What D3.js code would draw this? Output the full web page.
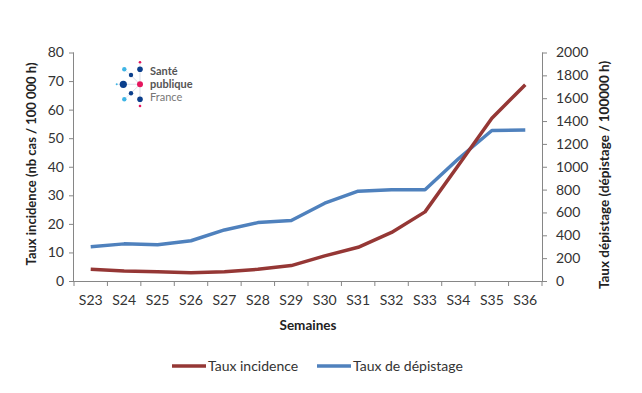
<!DOCTYPE html>
<html>
<head>
<meta charset="utf-8">
<script src="https://cdn.jsdelivr.net/npm/d3@7"></script>
<style>
  body { margin: 0; background: #fff; }
  text { font-family: Lato, "Open Sans", sans-serif; }
</style>
</head>
<body>
<svg id="chart" width="642" height="393"></svg>
<script>
const weeks = ["S23","S24","S25","S26","S27","S28","S29","S30","S31","S32","S33","S34","S35","S36"];
const incidence = [4.1, 3.5, 3.2, 2.9, 3.2, 4.1, 5.4, 8.8, 11.8, 17.0, 24.2, 40.5, 57.0, 68.7];
const depistage = [300, 325, 318, 352, 447, 511, 530, 681, 786, 798, 798, 1070, 1317, 1322];
const leftTicks = [0, 10, 20, 30, 40, 50, 60, 70, 80];
const rightTicks = [0, 200, 400, 600, 800, 1000, 1200, 1400, 1600, 1800, 2000];

const red = "#953735", blue = "#4f81bd", axisCol = "#868686";
const svg = d3.select("#chart");

const x = d3.scaleBand().domain(weeks).range([74, 542]);
const yL = d3.scaleLinear().domain([0, 80]).range([281, 52.5]);
const yR = d3.scaleLinear().domain([0, 2000]).range([281, 52.5]);

// axes
const gL = svg.append("g").attr("transform", "translate(74,0)")
  .call(d3.axisLeft(yL).tickValues(leftTicks).tickSize(5).tickPadding(5));
const gR = svg.append("g").attr("transform", "translate(542,0)")
  .call(d3.axisRight(yR).tickValues(rightTicks).tickFormat(d3.format("d")).tickSize(5).tickPadding(9));
const gX = svg.append("g").attr("transform", "translate(0,281)")
  .call(d3.axisBottom(x).tickSize(0).tickPadding(14));
// x ticks sit on the band edges
gX.selectAll(".edge").data(d3.range(weeks.length + 1)).enter().append("line")
  .attr("x1", i => 74 + i * x.step()).attr("x2", i => 74 + i * x.step())
  .attr("y1", 0).attr("y2", 5).attr("stroke", axisCol);

[gL, gR, gX].forEach(g => {
  g.selectAll("path, line").attr("stroke", axisCol);
  g.selectAll("text").attr("fill", "#333").style("font-size", "14px")
    .style("font-family", "Lato, sans-serif");
});
gL.select(".domain").attr("d", "M-0.5,52.5V281");
gR.select(".domain").attr("d", "M0.5,52.5V281");
gX.select(".domain").attr("d", "M74,0.5H542");

// axis titles
svg.append("text").attr("transform", "translate(36,164) rotate(-90)")
  .attr("text-anchor", "middle").style("font-size", "13px").style("font-weight", "bold")
  .attr("fill", "#222").text("Taux incidence (nb cas / 100 000 h)");
svg.append("text").attr("transform", "translate(609,175) rotate(-90)")
  .attr("text-anchor", "middle").style("font-size", "13.5px").style("font-weight", "bold")
  .attr("fill", "#222").text("Taux dépistage (dépistage / 100000 h)");
svg.append("text").attr("x", 308).attr("y", 330).attr("text-anchor", "middle")
  .style("font-size", "13.5px").style("font-weight", "bold").attr("fill", "#222").text("Semaines");

// logo
const logo = svg.append("g");
const dots = [
  [124.3, 69.3, 2.2, "#3fb5e5"], [140, 69.3, 2.8, "#0b3f8c"], [140, 62.3, 1.3, "#e5175e"],
  [131, 75, 2.2, "#0b3f8c"], [123.3, 84.3, 3.6, "#0b3f8c"], [116.7, 84.3, 1, "#3fb5e5"],
  [140, 84.3, 3, "#e5175e"], [131, 93.3, 2.2, "#0b3f8c"], [124.3, 99.3, 2.2, "#3fb5e5"],
  [140, 99.3, 2.8, "#0b3f8c"], [140, 106, 1.3, "#e5175e"]
];
logo.selectAll("line").data(dots).enter().append("line")
  .attr("x1", 140).attr("y1", 84.3).attr("x2", d => d[0]).attr("y2", d => d[1])
  .attr("stroke", "#d8dde8").attr("stroke-width", 0.6);
logo.selectAll("circle").data(dots).enter().append("circle")
  .attr("cx", d => d[0]).attr("cy", d => d[1]).attr("r", d => d[2]).attr("fill", d => d[3]);
logo.append("text").attr("x", 150).attr("y", 75).style("font-size", "11px").style("font-weight", "bold")
  .attr("fill", "#555").text("Santé");
logo.append("text").attr("x", 150).attr("y", 88).style("font-size", "11px").style("font-weight", "bold")
  .attr("fill", "#555").text("publique");
logo.append("text").attr("x", 150).attr("y", 101).style("font-size", "11px")
  .attr("fill", "#777").text("France");

// lines
const cx = d => x(d) + x.bandwidth() / 2;
svg.append("path").datum(depistage)
  .attr("d", d3.line().x((d, i) => cx(weeks[i])).y(d => yR(d)))
  .attr("fill", "none").attr("stroke", blue).attr("stroke-width", 3.5).attr("stroke-linejoin", "round");
svg.append("path").datum(incidence)
  .attr("d", d3.line().x((d, i) => cx(weeks[i])).y(d => yL(d)))
  .attr("fill", "none").attr("stroke", red).attr("stroke-width", 3.5).attr("stroke-linejoin", "round");

// legend
const legend = [["Taux incidence", red, 172], ["Taux de dépistage", blue, 317]];
legend.forEach(([name, col, lx]) => {
  svg.append("line").attr("x1", lx).attr("x2", lx + 34).attr("y1", 366).attr("y2", 366)
    .attr("stroke", col).attr("stroke-width", 3.5);
  svg.append("text").attr("x", lx + 36).attr("y", 370.5).style("font-size", "14px")
    .attr("fill", "#333").text(name);
});
</script>
</body>
</html>
